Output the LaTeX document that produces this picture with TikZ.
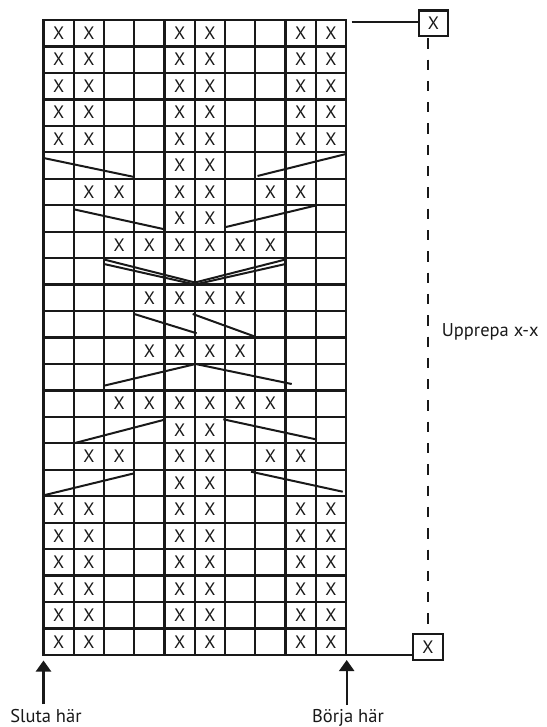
\documentclass[tikz,border=0pt]{standalone}
\usepackage{fontspec}
\setmainfont{PT Sans}
\usetikzlibrary{arrows.meta}
\begin{document}
\begin{tikzpicture}[x=1pt,y=-1pt,
  gridline/.style={line width=2.3pt, draw=black!90, line cap=rect},
  cable/.style={line width=2pt, draw=black!90},
  xmark/.style={font=\fontsize{18}{18}\selectfont, inner sep=0pt, text=black!90},
  repbox/.style={draw=black!90, line width=2.2pt, minimum width=29.5pt, minimum height=25.5pt, inner sep=0pt, font=\fontsize{18}{18}\selectfont, text=black!90},
  txtlabel/.style={font=\fontsize{18.5}{19}\selectfont, inner sep=0pt, text=black!90},
  upArrow/.style={line width=2.2pt, draw=black!90, -{Triangle[width=15pt,length=11pt]}},
  repeatline/.style={line width=2pt, draw=black!90, dash pattern=on 10.3pt off 11pt},
  connline/.style={line width=2.2pt, draw=black!90}
]
\useasboundingbox (0,0) rectangle (546,727);
\def\cw{30.25}
\def\rh{26.458}
% grid
\foreach \c in {0,...,10}
  \draw[gridline] ({43.5+\cw*\c},20) -- ({43.5+\cw*\c},655);
\foreach \r in {0,...,24}
  \draw[gridline] (43.5,{20+\rh*\r}) -- (346,{20+\rh*\r});
\coordinate (gridNE) at (346,20);
\coordinate (gridSE) at (346,655);
\coordinate (gridSW) at (43.5,655);
% X marks
\foreach \r/\cols in {1/{1,2,5,6,9,10},2/{1,2,5,6,9,10},3/{1,2,5,6,9,10},4/{1,2,5,6,9,10},5/{1,2,5,6,9,10},
  6/{5,6},7/{2,3,5,6,8,9},8/{5,6},9/{3,4,5,6,7,8},11/{4,5,6,7},13/{4,5,6,7},15/{3,4,5,6,7,8},
  16/{5,6},17/{2,3,5,6,8,9},18/{5,6},19/{1,2,5,6,9,10},20/{1,2,5,6,9,10},21/{1,2,5,6,9,10},
  22/{1,2,5,6,9,10},23/{1,2,5,6,9,10},24/{1,2,5,6,9,10}}
  \foreach \c in \cols
    \node[xmark] (x-\r-\c) at ({43.5+\cw*(\c-0.5)},{20+\rh*(\r-0.5)}) {X};
% cable lines
\draw[cable] (43.5,158) -- (134.25,177);
\draw[cable] (257.5,176) -- (346,154);
\draw[cable] (73.75,209.3) -- (165.5,229.5);
\draw[cable] (226,227) -- (315.75,205.5);
\draw[cable] (104,259.5) -- (195,282.5);
\draw[cable] (104,264) -- (195,284.5);
\draw[cable] (285.5,259.5) -- (195,282.5);
\draw[cable] (285.5,264) -- (195,284.5);
\draw[cable] (134.25,314) -- (196.7,333.3);
\draw[cable] (192.7,314) -- (255.25,336.7);
\draw[cable] (104,385.7) -- (195.7,364);
\draw[cable] (195.7,364) -- (291.7,384);
\draw[cable] (73.75,443.3) -- (163.3,420);
\draw[cable] (223.3,419.3) -- (315.75,439.3);
\draw[cable] (45,495) -- (134.25,473.3);
\draw[cable] (251,471.7) -- (342.7,491.7);
% repeat boxes
\node[repbox] (boxTop) at (433.5,23.2) {X};
\node[repbox] (boxBot) at (428,647) {X};
\coordinate (topStart) at (351.7,22.3);
\draw[connline] (topStart) -- (topStart -| boxTop.west);
\draw[connline] (gridSE) -- (gridSE -| boxBot.west);
\coordinate (dashTop) at (428.3,38.3);
\coordinate (dashBot) at (428.3,630);
\draw[repeatline] (dashTop) -- (dashBot);
\node[txtlabel, anchor=base west] (upprepa) at (441.7,336) {Upprepa x-x};
% start / end arrows
\node[txtlabel, anchor=base] (sluta) at (46,722.5) {Sluta här};
\node[txtlabel, anchor=base] (borja) at (348,722) {Börja här};
\coordinate (slutaTail) at (43.5,704);
\coordinate (slutaTip) at (43.5,660.5);
\coordinate (borjaTail) at (346.7,705);
\coordinate (borjaTip) at (346.7,660);
\draw[upArrow] (slutaTail) -- (slutaTip);
\draw[upArrow] (borjaTail) -- (borjaTip);
\end{tikzpicture}
\end{document}
